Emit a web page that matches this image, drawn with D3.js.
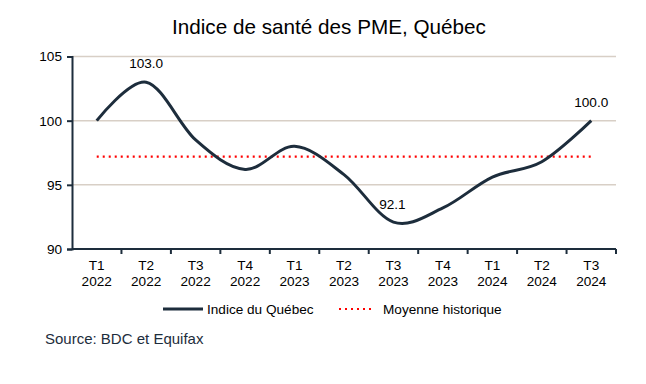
<!DOCTYPE html>
<html>
<head>
<meta charset="utf-8">
<script src="https://cdn.jsdelivr.net/npm/d3@7"></script>
<style>
  body { margin: 0; background: #fff; }
  text { font-family: Arial, "Liberation Sans", sans-serif; }
</style>
</head>
<body>
<div class="canvas"></div>
<script>
// data
const quarters = ['T1', 'T2', 'T3', 'T4', 'T1', 'T2', 'T3', 'T4', 'T1', 'T2', 'T3'];
const years = ['2022', '2022', '2022', '2022', '2023', '2023', '2023', '2023', '2024', '2024', '2024'];
const indexValues = [100.0, 103.0, 98.5, 96.2, 98.0, 95.8, 92.1, 93.2, 95.6, 96.8, 100.0];
const historicAvg = 97.2;
const labelled = [1, 6, 10]; // points with value labels
const yTicks = [90, 95, 100, 105];

const dims = { width: 646, height: 384 };
const margin = { left: 72, right: 30, top: 56.5, bottom: 135 };
const cats = quarters.map((q, i) => q + ' ' + years[i]);

const svg = d3.select('.canvas')
    .append('svg')
    .attr('width', dims.width)
    .attr('height', dims.height);

const x = d3.scaleBand()
    .domain(cats)
    .range([margin.left, dims.width - margin.right]);

const y = d3.scaleLinear()
    .domain([90, 105])
    .range([249, margin.top]);

// title
svg.append('text')
    .attr('x', 329).attr('y', 34)
    .attr('text-anchor', 'middle')
    .attr('font-size', '20.7px')
    .attr('fill', '#000')
    .text('Indice de santé des PME, Québec');

// gridlines
svg.append('g')
    .selectAll('line')
    .data(yTicks.filter(d => d > 90))
    .enter().append('line')
    .attr('x1', margin.left).attr('x2', dims.width - margin.right)
    .attr('y1', d => y(d)).attr('y2', d => y(d))
    .attr('stroke', '#d8cfc6')
    .attr('stroke-width', 1.5);

// y axis
const yAxis = svg.append('g')
    .attr('transform', `translate(${margin.left},0)`)
    .call(d3.axisLeft(y).tickValues(yTicks).tickSize(5).tickPadding(5));
yAxis.select('.domain').attr('stroke', '#1d2d3c').attr('stroke-width', 2);
yAxis.selectAll('.tick line').attr('stroke', '#1d2d3c').attr('stroke-width', 2);
yAxis.selectAll('text').attr('font-size', '13.6px').attr('fill', '#000').attr('font-family', 'Arial, "Liberation Sans", sans-serif');

// x axis: ticks at category boundaries
const xg = svg.append('g');
xg.append('line')
    .attr('x1', margin.left).attr('x2', dims.width - margin.right)
    .attr('y1', y(90)).attr('y2', y(90))
    .attr('stroke', '#1d2d3c').attr('stroke-width', 2);
const bounds = cats.map(c => x(c)).concat([x(cats[cats.length - 1]) + x.bandwidth()]);
xg.selectAll('.bt')
    .data(bounds.slice(1))
    .enter().append('line')
    .attr('x1', d => d).attr('x2', d => d)
    .attr('y1', y(90)).attr('y2', y(90) + 5)
    .attr('stroke', '#1d2d3c').attr('stroke-width', 2);
const xl = xg.selectAll('.xl')
    .data(cats)
    .enter().append('text')
    .attr('x', d => x(d) + x.bandwidth() / 2)
    .attr('text-anchor', 'middle')
    .attr('font-size', '13.6px')
    .attr('fill', '#000');
xl.append('tspan').attr('x', d => x(d) + x.bandwidth() / 2).attr('y', 270).text((d, i) => quarters[i]);
xl.append('tspan').attr('x', d => x(d) + x.bandwidth() / 2).attr('y', 286).text((d, i) => years[i]);

const cx = i => x(cats[i]) + x.bandwidth() / 2;

// historic average
svg.append('line')
    .attr('x1', cx(0)).attr('x2', cx(cats.length - 1))
    .attr('y1', y(historicAvg)).attr('y2', y(historicAvg))
    .attr('stroke', '#ff0000')
    .attr('stroke-width', 2.2)
    .attr('stroke-dasharray', '2,4');

// index line
const line = d3.line()
    .x((d, i) => cx(i))
    .y(d => y(d))
    .curve(d3.curveCardinal.tension(0));

svg.append('path')
    .datum(indexValues)
    .attr('d', line)
    .attr('fill', 'none')
    .attr('stroke', '#1d2d3c')
    .attr('stroke-width', 3);

// value labels
svg.selectAll('.vl')
    .data(labelled)
    .enter().append('text')
    .attr('x', i => cx(i) + (i === 6 ? -1 : 0))
    .attr('y', i => y(indexValues[i]) - (i === 6 ? 13 : 14))
    .attr('text-anchor', 'middle')
    .attr('font-size', '13.6px')
    .attr('fill', '#000')
    .text(i => indexValues[i].toFixed(1));

// legend
const leg = svg.append('g');
leg.append('line')
    .attr('x1', 163).attr('x2', 203).attr('y1', 309).attr('y2', 309)
    .attr('stroke', '#1d2d3c').attr('stroke-width', 3);
leg.append('text')
    .attr('x', 207).attr('y', 314)
    .attr('font-size', '13.6px').attr('fill', '#000')
    .text('Indice du Québec');
leg.append('line')
    .attr('x1', 339).attr('x2', 373).attr('y1', 309).attr('y2', 309)
    .attr('stroke', '#ff0000').attr('stroke-width', 2.2)
    .attr('stroke-dasharray', '2,4');
leg.append('text')
    .attr('x', 383).attr('y', 314)
    .attr('font-size', '13.6px').attr('fill', '#000')
    .text('Moyenne historique');

// source
svg.append('text')
    .attr('x', 45).attr('y', 344)
    .attr('font-size', '15px')
    .attr('fill', '#1d2d3c')
    .text('Source: BDC et Equifax');
</script>
</body>
</html>
